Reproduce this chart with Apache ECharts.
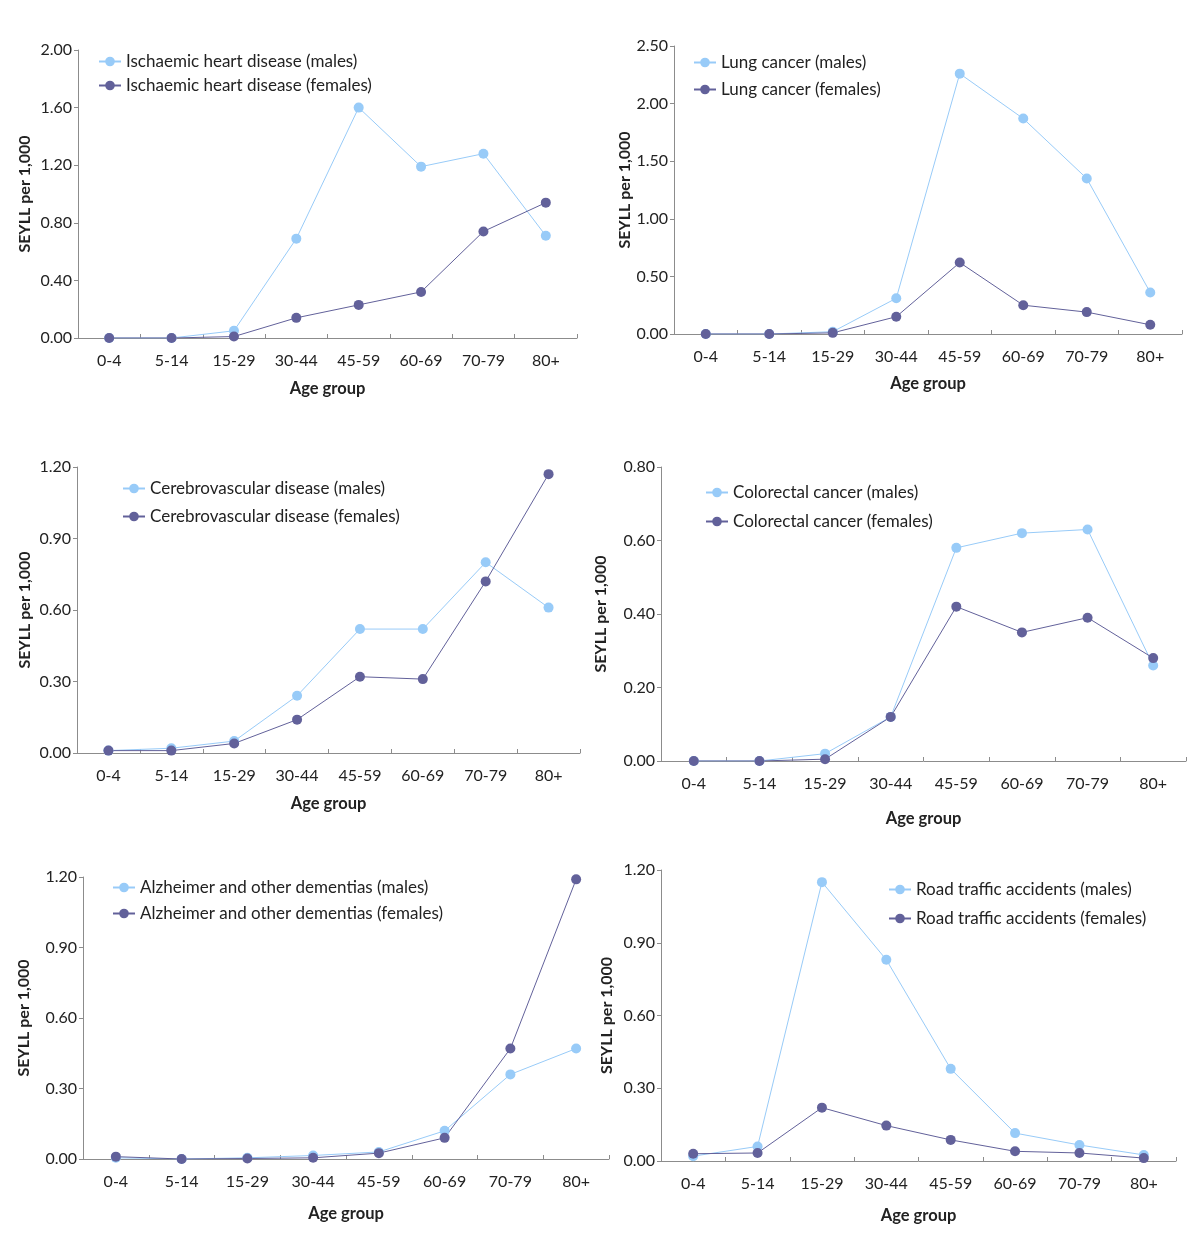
<!DOCTYPE html>
<html lang="en">
<head>
    <meta http-equiv="Content-Type" content="text/html; charset=utf-8">
    <script type="text/javascript" src="https://cdn.jsdelivr.net/npm/echarts@6/dist/echarts.min.js"></script>
    <title>SEYLL per 1,000 by age group</title>
    <style>
        html, body { margin: 0; padding: 0; background: #fff; }
        #main { width: 1200px; height: 1237px; }
    </style>
</head>
<body>
<div id="main"></div>

<script>
const ageGroups = ['0-4', '5-14', '15-29', '30-44', '45-59', '60-69', '70-79', '80+'];

// SEYLL per 1,000
const ihdMales      = [0, 0, 0.05, 0.69, 1.60, 1.19, 1.28, 0.71];
const ihdFemales    = [0, 0, 0.01, 0.14, 0.23, 0.32, 0.74, 0.94];
const lungMales     = [0, 0, 0.02, 0.31, 2.26, 1.87, 1.35, 0.36];
const lungFemales   = [0, 0, 0.01, 0.15, 0.62, 0.25, 0.19, 0.08];
const cvdMales      = [0.01, 0.02, 0.05, 0.24, 0.52, 0.52, 0.80, 0.61];
const cvdFemales    = [0.01, 0.01, 0.04, 0.14, 0.32, 0.31, 0.72, 1.17];
const crcMales      = [0, 0, 0.02, 0.12, 0.58, 0.62, 0.63, 0.26];
const crcFemales    = [0, 0, 0.005, 0.12, 0.42, 0.35, 0.39, 0.28];
const alzMales      = [0.005, 0, 0.005, 0.015, 0.03, 0.12, 0.36, 0.47];
const alzFemales    = [0.01, 0, 0.002, 0.005, 0.025, 0.09, 0.47, 1.19];
const roadMales     = [0.02, 0.06, 1.15, 0.83, 0.38, 0.115, 0.066, 0.025];
const roadFemales   = [0.03, 0.033, 0.22, 0.146, 0.087, 0.04, 0.033, 0.012];

const MALE = '#98cbf8';
const FEMALE = '#62619a';
const FONT = 'Lato';

// one entry per panel: grid [left, top, width, height], legend [left, top, gap]
const panels = [
    { label: 'Ischaemic heart disease', m: ihdMales, f: ihdFemales, max: 2.0, step: 0.4,
      grid: [78, 50, 499, 288], legend: [98, 53, 7], xGap: 42, yGap: 45 },
    { label: 'Lung cancer', m: lungMales, f: lungFemales, max: 2.5, step: 0.5,
      grid: [674, 46, 508, 288], legend: [693, 54, 10], xGap: 41, yGap: 40 },
    { label: 'Cerebrovascular disease', m: cvdMales, f: cvdFemales, max: 1.2, step: 0.3,
      grid: [77, 467, 503, 286], legend: [122, 480, 11], xGap: 42, yGap: 44 },
    { label: 'Colorectal cancer', m: crcMales, f: crcFemales, max: 0.8, step: 0.2,
      grid: [661, 467, 525, 294], legend: [705, 484, 12], xGap: 49, yGap: 52 },
    { label: 'Alzheimer and other dementias', m: alzMales, f: alzFemales, max: 1.2, step: 0.3,
      grid: [83, 877, 526, 282], legend: [112, 879, 9], xGap: 46, yGap: 51 },
    { label: 'Road traffic accidents', m: roadMales, f: roadFemales, max: 1.2, step: 0.3,
      grid: [661, 870, 515, 291], legend: [888, 881, 12], xGap: 46, yGap: 46 }
];

let chart = echarts.init(document.getElementById('main'));

const grids = [], xAxes = [], yAxes = [], legends = [], series = [];

panels.forEach(function (p, i) {
    grids.push({ left: p.grid[0], top: p.grid[1], width: p.grid[2], height: p.grid[3], containLabel: false });

    xAxes.push({
        type: 'category',
        gridIndex: i,
        data: ageGroups,
        boundaryGap: true,
        name: 'Age group',
        nameLocation: 'middle',
        nameGap: p.xGap,
        nameTextStyle: { fontFamily: FONT, fontSize: 16.5, fontWeight: 'bold', color: '#222' },
        axisLine: { lineStyle: { color: '#8c8c8c', width: 1 } },
        axisTick: { show: true, inside: true, length: 4, lineStyle: { color: '#8c8c8c' } },
        axisLabel: { fontFamily: FONT, fontSize: 16, color: '#222', margin: 15 },
        splitLine: { show: false }
    });

    yAxes.push({
        type: 'value',
        gridIndex: i,
        min: 0,
        max: p.max,
        interval: p.step,
        name: 'SEYLL per 1,000',
        nameLocation: 'middle',
        nameRotate: 90,
        nameGap: p.yGap,
        nameTextStyle: { fontFamily: FONT, fontSize: 16, fontWeight: 'bold', color: '#222' },
        axisLine: { show: true, lineStyle: { color: '#8c8c8c', width: 1 } },
        axisTick: { show: true, length: 4, lineStyle: { color: '#8c8c8c' } },
        axisLabel: {
            fontFamily: FONT, fontSize: 16, color: '#222', margin: 6,
            formatter: function (v) { return v.toFixed(2); }
        },
        splitLine: { show: false }
    });

    const mName = p.label + ' (males)';
    const fName = p.label + ' (females)';

    legends.push({
        orient: 'vertical',
        left: p.legend[0],
        top: p.legend[1],
        itemGap: p.legend[2],
        padding: 0,
        itemWidth: 22,
        itemHeight: 12,
        data: [mName, fName],
        textStyle: { fontFamily: FONT, fontSize: 17, color: '#222' }
    });

    [[mName, p.m, MALE], [fName, p.f, FEMALE]].forEach(function (s) {
        series.push({
            name: s[0],
            type: 'line',
            xAxisIndex: i,
            yAxisIndex: i,
            data: s[1],
            symbol: 'circle',
            symbolSize: 10,
            showSymbol: true,
            color: s[2],
            lineStyle: { width: 1, color: s[2] },
            itemStyle: { color: s[2] },
            animation: false
        });
    });
});

chart.setOption({
    backgroundColor: '#fff',
    animation: false,
    grid: grids,
    xAxis: xAxes,
    yAxis: yAxes,
    legend: legends,
    series: series
});
</script>
</body>
</html>
